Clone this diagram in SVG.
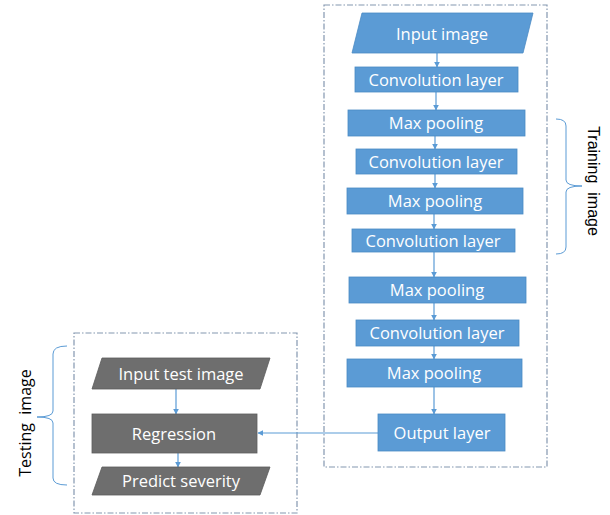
<svg xmlns="http://www.w3.org/2000/svg" width="610" height="515" viewBox="0 0 610 515">
  <defs>
    <style>
      .blue { fill: #5b9bd5; stroke: #4a8ac4; stroke-width: 0.8; }
      .gray { fill: #6e6e6e; stroke: #5c5c5c; stroke-width: 0.8; }
      .lbl { font-family: "Open Sans", "Liberation Sans", sans-serif; font-size: 16.5px; fill: #ffffff; text-anchor: middle; }
      .side-r { font-family: "Liberation Sans", Arial, sans-serif; font-size: 16px; fill: #000000; text-anchor: middle; white-space: pre; }
      .side-l { font-family: "Open Sans", "Liberation Sans", sans-serif; font-size: 16px; fill: #000000; text-anchor: middle; white-space: pre; }
      .frame { fill: none; stroke: #8497b0; stroke-width: 1.2; stroke-dasharray: 6 2 1.5 2; }
      .edge { fill: none; stroke: #5b9bd5; stroke-width: 1.2; marker-end: url(#arrow); }
      .brace { fill: none; stroke: #5b9bd5; stroke-width: 1; }
    </style>
    <marker id="arrow" viewBox="0 0 10 10" refX="9" refY="5" markerWidth="5" markerHeight="5" orient="auto">
      <path d="M0,0 L10,5 L0,10 z" fill="#5b9bd5"/>
    </marker>
  </defs>

  <rect id="training-frame" class="frame" x="324" y="5" width="223" height="462"/>
  <rect id="testing-frame" class="frame" x="74" y="333" width="223" height="180"/>

  <g id="connectors">
    <path class="edge" d="M437,53 V67"/>
    <path class="edge" d="M436,92 V110"/>
    <path class="edge" d="M435,136 V149"/>
    <path class="edge" d="M435,174 V188"/>
    <path class="edge" d="M434,214 V229"/>
    <path class="edge" d="M434,252 V277"/>
    <path class="edge" d="M434,303 V320"/>
    <path class="edge" d="M434,346 V359"/>
    <path class="edge" d="M434,387 V414"/>
    <path class="edge" d="M378,433 H258"/>
    <path class="edge" d="M176,389 V414"/>
    <path class="edge" d="M178,453 V467"/>
  </g>

  <g id="input-image">
    <polygon class="blue" points="362,13 533,13 523,53 352,53"/>
    <text class="lbl" x="442" y="40">Input image</text>
  </g>
  <g id="conv-1">
    <rect class="blue" x="355" y="67" width="163" height="25"/>
    <text class="lbl" x="436" y="86">Convolution layer</text>
  </g>
  <g id="pool-1">
    <rect class="blue" x="348" y="110" width="177" height="26"/>
    <text class="lbl" x="436" y="129">Max pooling</text>
  </g>
  <g id="conv-2">
    <rect class="blue" x="356" y="149" width="161" height="25"/>
    <text class="lbl" x="436" y="168">Convolution layer</text>
  </g>
  <g id="pool-2">
    <rect class="blue" x="347" y="188" width="176" height="26"/>
    <text class="lbl" x="435" y="207">Max pooling</text>
  </g>
  <g id="conv-3">
    <rect class="blue" x="352" y="229" width="163" height="23"/>
    <text class="lbl" x="433" y="247">Convolution layer</text>
  </g>
  <g id="pool-3">
    <rect class="blue" x="349" y="277" width="177" height="26"/>
    <text class="lbl" x="437" y="296">Max pooling</text>
  </g>
  <g id="conv-4">
    <rect class="blue" x="356" y="320" width="163" height="26"/>
    <text class="lbl" x="437" y="339">Convolution layer</text>
  </g>
  <g id="pool-4">
    <rect class="blue" x="347" y="359" width="175" height="28"/>
    <text class="lbl" x="434" y="379">Max pooling</text>
  </g>
  <g id="output-layer">
    <rect class="blue" x="378" y="414" width="127" height="37"/>
    <text class="lbl" x="442" y="439">Output layer</text>
  </g>

  <g id="input-test-image">
    <polygon class="gray" points="102,358 270,358 260,389 92,389"/>
    <text class="lbl" x="181" y="380">Input test image</text>
  </g>
  <g id="regression">
    <rect class="gray" x="92" y="414" width="165" height="39"/>
    <text class="lbl" x="174" y="440">Regression</text>
  </g>
  <g id="predict-severity">
    <polygon class="gray" points="102,467 270,467 260,495 92,495"/>
    <text class="lbl" x="181" y="487">Predict severity</text>
  </g>

  <g id="training-label">
    <path class="brace" d="M556,119 Q566,119 566,126 V180 Q566,186 582,186 Q566,186 566,192 V247 Q566,254 556,254"/>
    <text class="side-r" xml:space="preserve" transform="translate(588,181) rotate(90)">Training  image</text>
  </g>
  <g id="testing-label">
    <path class="brace" d="M67,346 Q53,346 53,354 V411 Q53,417 37,417 Q53,417 53,423 V478 Q53,485 67,485"/>
    <text class="side-l" xml:space="preserve" transform="translate(31,423) rotate(-90)">Testing  image</text>
  </g>
</svg>
